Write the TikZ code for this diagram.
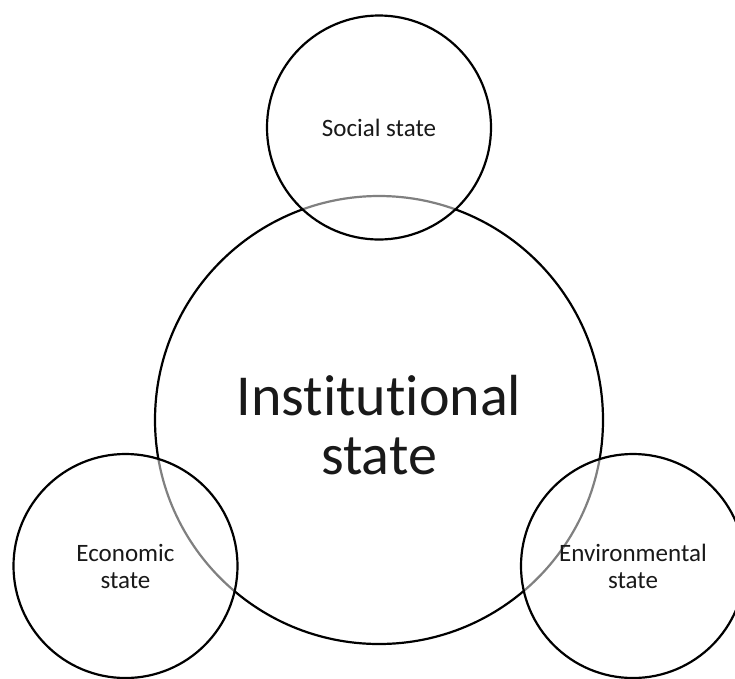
\documentclass[tikz,border=0pt]{standalone}
\usepackage{fontspec}
\setmainfont{Carlito}[Ligatures={NoCommon,NoContextual}]
\begin{document}
\begin{tikzpicture}[x=1pt,y=-1pt,
  ring/.style={circle, draw=black, line width=2.2pt, inner sep=0pt, align=center},
  bigring/.style={ring, minimum size=448pt},
  biglabel/.style={align=center, inner sep=0pt, text=black!90, font=\fontsize{58}{59}\selectfont},
  smallring/.style={ring, minimum size=224pt, fill=white, fill opacity=0.5, text opacity=1, draw opacity=1, text=black!90, font=\fontsize{25}{27}\selectfont}]
\useasboundingbox (0,0) rectangle (735,678);
\clip (0,0) rectangle (735,678);
\node[bigring] (inst) at (379,420) {};
\node[biglabel] (instlabel) at ([yshift=-5pt]inst.center) {Institutional\\state};
\node[smallring] (soc) at (379,127.5) {Social state};
\node[smallring] (eco) at (125.5,566) {Economic\\state};
\node[smallring] (env) at (633,566) {Environmental\\state};
\end{tikzpicture}
\end{document}
